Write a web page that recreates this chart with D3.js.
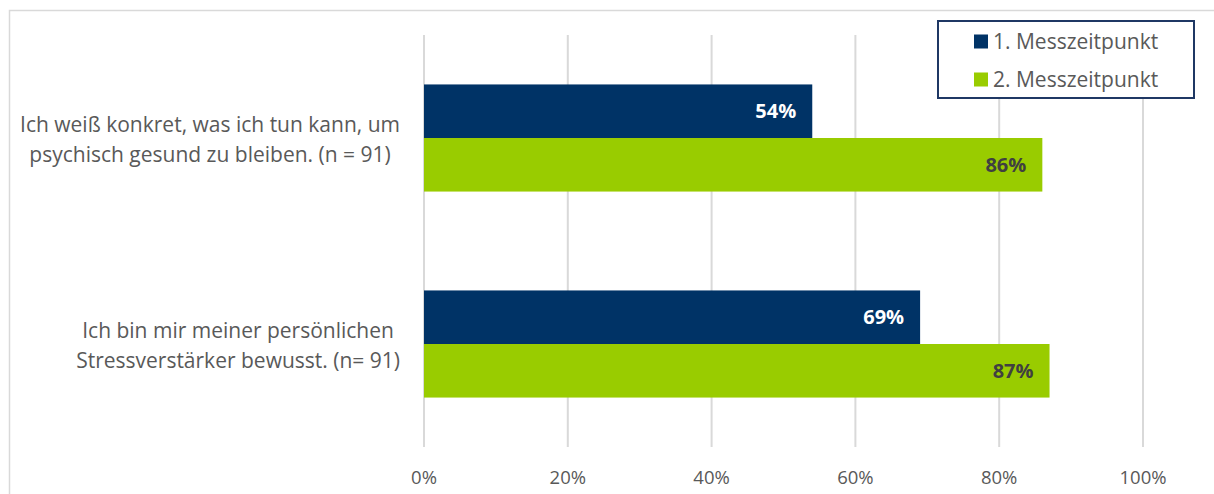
<!DOCTYPE html>
<html>
<head>
<meta charset="utf-8">
<script src="https://cdn.jsdelivr.net/npm/d3@7"></script>
<style>
  body { margin: 0; background: #fff; }
  svg text { font-family: "Open Sans", sans-serif; }
</style>
</head>
<body>
<div id="chart"></div>
<script>
var categories = [
  ["Ich weiß konkret, was ich tun kann, um", "psychisch gesund zu bleiben. (n = 91)"],
  ["Ich bin mir meiner persönlichen", "Stressverstärker bewusst. (n= 91)"]
];
var seriesNames = ["1. Messzeitpunkt", "2. Messzeitpunkt"];
var series1 = [54, 69];
var series2 = [86, 87];
var ticks = [0, 20, 40, 60, 80, 100];

var colors = ["#003366", "#99cc00"];
var labelColors = ["#ffffff", "#404040"];

var width = 1214, height = 494;
var svg = d3.select("#chart").append("svg")
    .attr("width", width)
    .attr("height", height);

// chart frame
svg.append("rect")
    .attr("x", 9.5).attr("y", 10.5)
    .attr("width", 1220).attr("height", 500)
    .attr("fill", "none")
    .attr("stroke", "#d9d9d9")
    .attr("stroke-width", 1.5);

var x = d3.scaleLinear().domain([0, 100]).range([424, 1143]);
var y = d3.scaleBand().domain(d3.range(categories.length)).range([35, 447])
    .paddingInner(0.48).paddingOuter(0.24);
var ySub = d3.scaleBand().domain([0, 1]).range([0, y.bandwidth()]);

// gridlines
svg.append("g").selectAll("line")
    .data(ticks)
    .join("line")
    .attr("x1", d => x(d)).attr("x2", d => x(d))
    .attr("y1", 35).attr("y2", 447)
    .attr("stroke", "#d9d9d9")
    .attr("stroke-width", 2);

// tick labels
svg.append("g").selectAll("text")
    .data(ticks)
    .join("text")
    .attr("x", d => x(d))
    .attr("y", 484)
    .attr("text-anchor", "middle")
    .attr("fill", "#595959")
    .style("font-size", "18.5px")
    .text(d => d + "%");

var rows = categories.map((c, i) => ({ i: i, vals: [series1[i], series2[i]] }));

var groups = svg.append("g").selectAll("g")
    .data(rows)
    .join("g")
    .attr("transform", d => "translate(0," + y(d.i) + ")");

groups.selectAll("rect")
    .data(d => d.vals.map((v, s) => ({ v: v, s: s })))
    .join("rect")
    .attr("x", x(0))
    .attr("y", d => ySub(d.s))
    .attr("width", d => x(d.v) - x(0))
    .attr("height", ySub.bandwidth())
    .attr("fill", d => colors[d.s]);

groups.selectAll("text.val")
    .data(d => d.vals.map((v, s) => ({ v: v, s: s })))
    .join("text")
    .attr("class", "val")
    .attr("x", d => x(d.v) - 16)
    .attr("y", d => ySub(d.s) + ySub.bandwidth() / 2 + 7)
    .attr("text-anchor", "end")
    .attr("fill", d => labelColors[d.s])
    .style("font-size", "20px")
    .style("font-weight", "bold")
    .text(d => d.v + "%");

// category labels
var catLabels = svg.append("g").selectAll("text")
    .data(rows)
    .join("text")
    .attr("text-anchor", "middle")
    .attr("fill", "#595959")
    .style("font-size", "21px");

catLabels.each(function(d) {
    var t = d3.select(this);
    var cy = y(d.i) + y.bandwidth() / 2;
    categories[d.i].forEach((line, k) => {
        t.append("tspan")
            .attr("y", cy - 6 + k * 30)
            .text(line);
    });
    var w = d3.max(t.selectAll("tspan").nodes(), n => n.getComputedTextLength());
    t.selectAll("tspan").attr("x", 400 - w / 2);
});

// legend
var legend = svg.append("g");
legend.append("rect")
    .attr("x", 938).attr("y", 21)
    .attr("width", 256).attr("height", 77)
    .attr("fill", "#fff")
    .attr("stroke", "#1f3864")
    .attr("stroke-width", 2);

var items = legend.selectAll("g")
    .data(seriesNames)
    .join("g")
    .attr("transform", (d, i) => "translate(974," + (41.5 + i * 38) + ")");

items.append("rect")
    .attr("x", 0).attr("y", -7)
    .attr("width", 14).attr("height", 14)
    .attr("fill", (d, i) => colors[i]);

items.append("text")
    .attr("x", 19)
    .attr("y", 7)
    .attr("fill", "#595959")
    .style("font-size", "21px")
    .text(d => d);
</script>
</body>
</html>
